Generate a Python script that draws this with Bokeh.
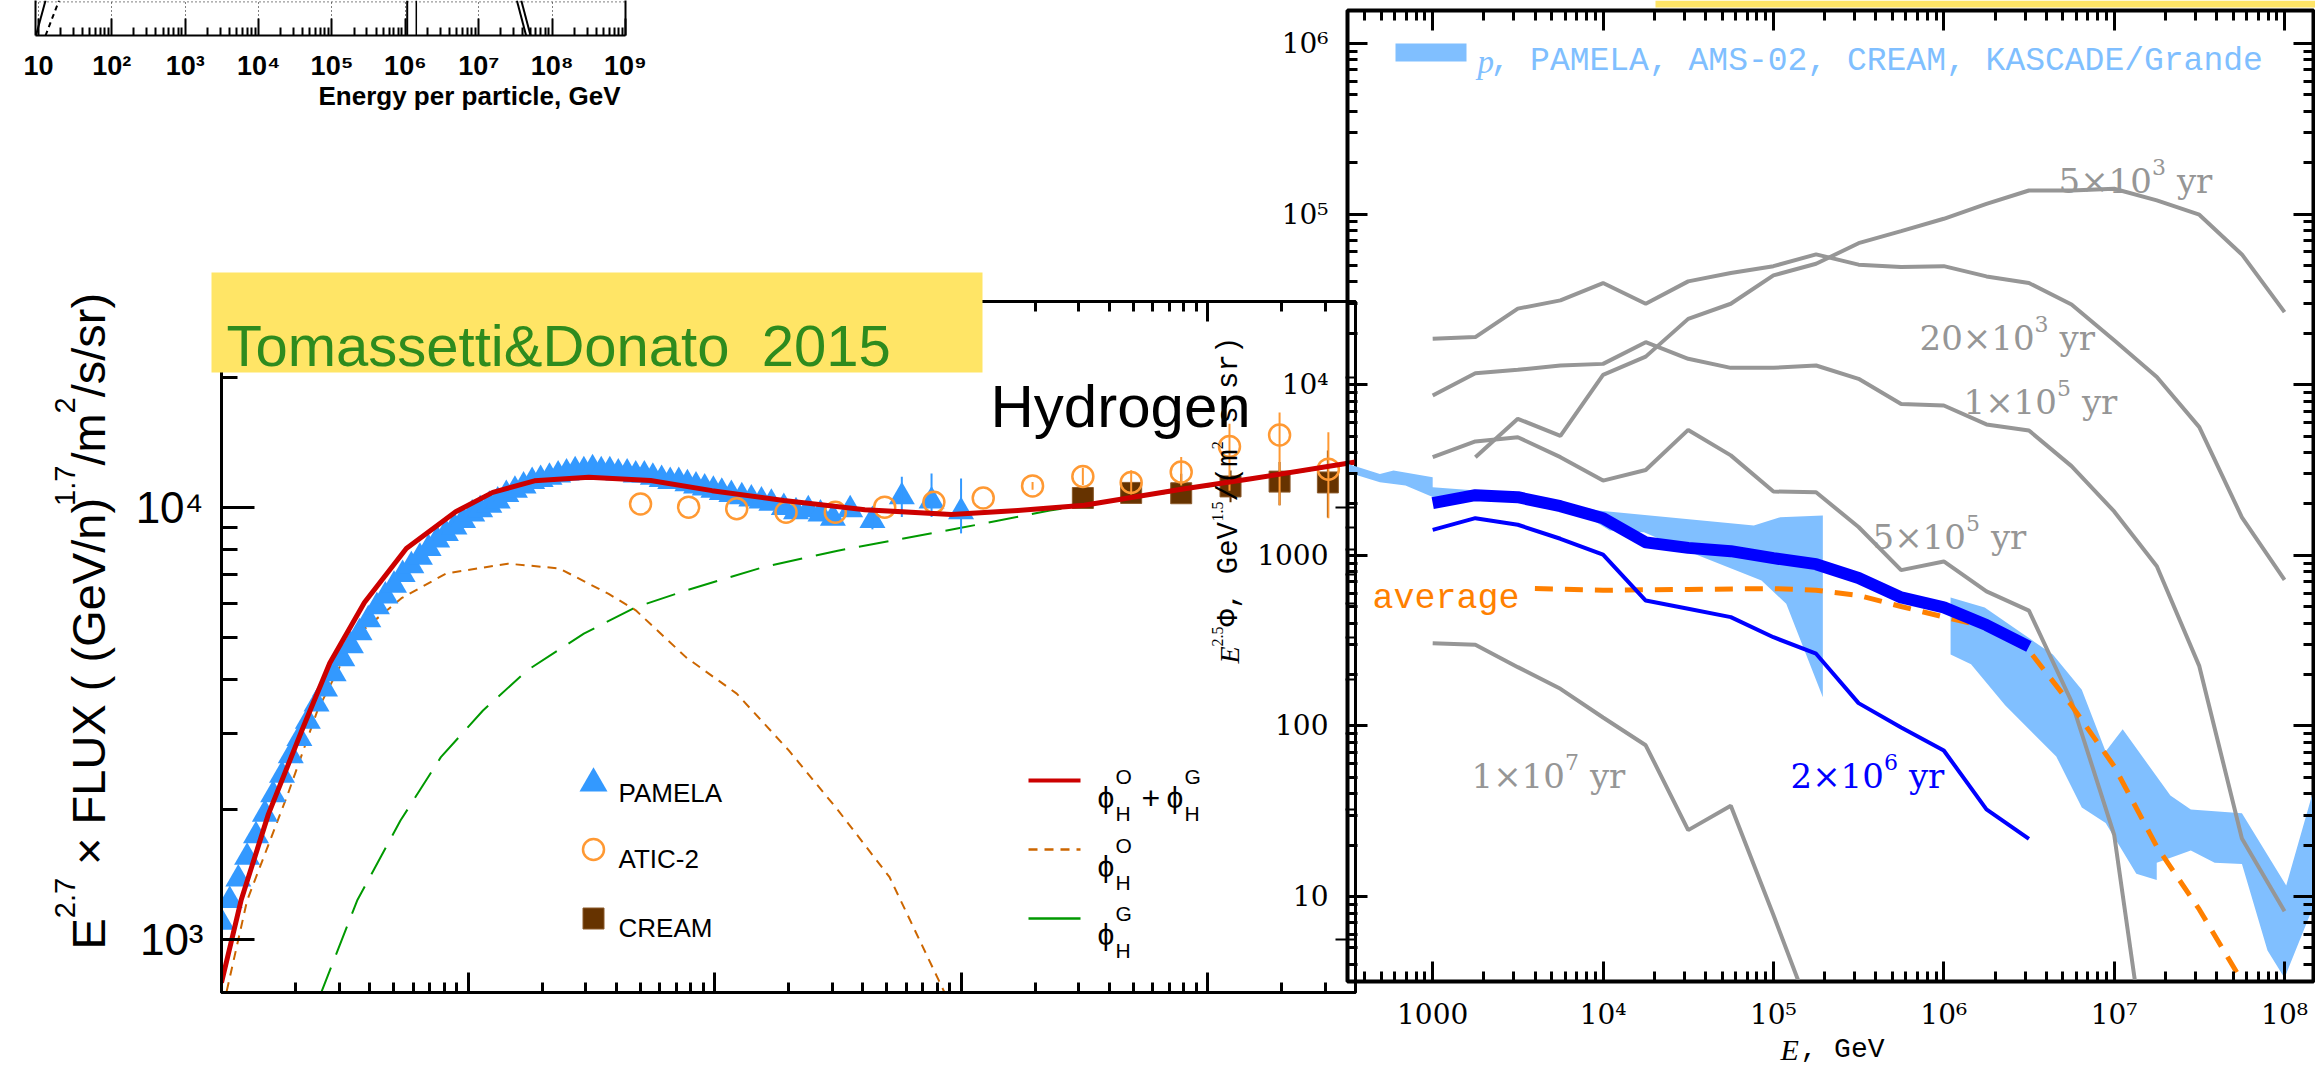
import numpy as np
from bokeh.plotting import figure
from bokeh.models import Range1d, LogAxis, LinearAxis, FixedTicker, Label, Span
from bokeh.embed import file_html
from bokeh.resources import INLINE

W, H = 2315, 1065
SANS, SERIF, MONO, DSERIF = "Liberation Sans", "Liberation Serif", "Liberation Mono", "DejaVu Serif"

# ---------------- Hydrogen spectrum: E^2.7 x flux vs kinetic energy per nucleon (GeV/n) ----------------
pamela_E = [1.00, 1.08, 1.17, 1.27, 1.38, 1.50, 1.62, 1.76, 1.91, 2.07, 2.24, 2.43, 2.63, 2.85, 3.09,
            3.35, 3.63, 3.94, 4.27, 4.62, 5.01, 5.43, 5.89, 6.38, 6.92, 7.50, 8.13, 8.81, 9.55, 10.4,
            11.2, 12.2, 13.2, 14.3, 15.5, 16.8, 18.2, 19.7, 21.4, 23.2, 25.1, 27.2, 29.5, 32.0, 34.7,
            37.6, 40.7, 44.2, 47.9, 51.9, 56.2, 61.0, 66.1, 71.6, 77.6, 84.1, 91.2, 98.9, 107, 117,
            129, 141, 155, 170, 191, 214, 240, 269, 302, 355, 437, 575, 759, 1000]
pamela_F = [1096, 1230, 1380, 1549, 1738, 1950, 2163, 2399, 2661, 2917, 3199, 3508, 3802, 4121, 4467,
            4786, 5129, 5495, 5888, 6237, 6607, 6998, 7328, 7674, 8035, 8414, 8710, 9016, 9333, 9661,
            9886, 10120, 10350, 10720, 10960, 11220, 11480, 11610, 11750, 11890, 12020, 12160, 12160,
            12300, 12160, 12160, 12020, 12020, 11890, 11890, 11750, 11610, 11480, 11480, 11350, 11220,
            11090, 10960, 10840, 10720, 10590, 10470, 10350, 10230, 10000, 9772, 9886, 9661, 9441,
            9886, 9333, 10590, 10350, 9772]
pamela_err_E = [437, 575, 759, 1000]
pamela_err_lo = [8900, 9506, 9506, 8710]
pamela_err_hi = [9800, 11780, 11990, 11670]

atic_E = [50.1, 78.5, 123, 195, 309, 490, 776, 1230, 1950, 3119, 4898, 7816, 12270, 19590, 30900]
atic_F = [10190, 10020, 9931, 9750, 9750, 10020, 10280, 10520, 11220, 11800, 11430, 12080, 13840, 14720, 12270]
atic_lo = [10190, 10020, 9931, 9750, 9750, 10020, 10280, 10520, 11000, 11270, 10720, 11250, 10940, 10120, 9441]
atic_hi = [10190, 10020, 9931, 9750, 9750, 10020, 10280, 10520, 11450, 12360, 12190, 13090, 15630, 16600, 14930]

cream_E = [3119, 4898, 7816, 12390, 19590, 30760]
cream_F = [10520, 10810, 10790, 11190, 11480, 11430]
cream_lo = [10280, 10470, 10400, 10290, 10120, 9484]
cream_hi = [10770, 11150, 11970, 12180, 12740, 13550]

# model: total (phi_O + phi_G), local source term phi_O, Galactic term phi_G
total_E = [1.0, 1.20, 1.55, 2.14, 2.75, 3.80, 5.62, 8.91, 12.6, 18.6, 30.9, 55.0, 97.7, 191, 407, 912,
           1700, 3162, 7943, 14790, 39810]
total_F = [794, 1230, 1950, 3090, 4365, 6026, 8035, 9772, 10840, 11530, 11750, 11550, 10940, 10380,
           9886, 9638, 9840, 10120, 11040, 11640, 12740]
phiO_E = [1.05, 1.27, 1.86, 2.45, 3.47, 5.37, 8.13, 14.5, 23.4, 37.2, 47.9, 76.7, 123, 200, 316, 513, 891]
phiO_F = [759, 1230, 2173, 3388, 5012, 6166, 7031, 7413, 7228, 6310, 5781, 4498, 3707, 2739, 1995, 1393, 719]
phiG_E = [2.51, 3.55, 5.32, 7.76, 11.5, 17.4, 29.5, 47.9, 76.7, 158, 316, 1000, 2291, 7943, 14790, 39810]
phiG_F = [741, 1230, 1884, 2642, 3388, 4198, 5105, 5875, 6427, 7278, 7943, 8974, 9840, 10960, 11590, 12680]

# ---------------- Proton spectrum E^2.5 Phi (GeV^1.5 / (m^2 s sr)) vs E (GeV) ----------------
E_grid = [1.0e3, 1.78e3, 3.16e3, 5.62e3, 1.0e4, 1.78e4, 3.16e4, 5.62e4, 1.0e5, 1.78e5, 3.16e5,
          5.62e5, 1.0e6, 1.78e6, 3.16e6, 5.62e6, 1.0e7, 1.78e7, 3.16e7, 5.62e7, 1.0e8]
age_5e3 = [3760, 6310, 5010, 11400, 14600, 24300, 29800, 43700, 51100, 67500, 79400, 93800,
           114800, 137400, 137400, 140600, 120200, 99100, 58000, 26600]          # from 1.78e3
age_2e4 = [18600, 19000, 27900, 31200, 39400, 29800, 40300, 45100, 49500, 58000, 50500, 48900,
           49500, 43100, 39400, 29500, 18200, 11100, 5640, 1670, 718]
age_1e5 = [8630, 11680, 12220, 12950, 13240, 17740, 14180, 12550, 12550, 12950, 10820, 7710,
           7550, 5850, 5390, 3330, 1808, 863, 224, 21.9, 8.2]
age_5e5 = [3760, 4650, 4920, 3760, 2740, 3160, 5430, 3850, 2365, 2340, 1465, 819, 920, 614, 474,
           139, 23, 0.4]
age_1e7 = [305, 299, 221, 165, 112, 77, 24.5, 34, 7.8, 1.7]
age_2e6 = [1410, 1650, 1510, 1250, 1010, 543, 486, 434, 331, 265, 136, 98, 71.8, 32.4, 21.8]
total_2e6 = [2020, 2250, 2190, 1940, 1650, 1190, 1105, 1057, 962, 887, 736, 566, 495, 390, 292]

avg_E = [3981, 1.0e4, 3.16e4, 1.0e5, 1.78e5, 3.16e5, 5.62e5, 1.0e6, 1.78e6, 3.16e6, 5.62e6,
         1.0e7, 1.78e7, 3.16e7, 5.62e7]
avg_F = [638, 624, 631, 638, 624, 582, 501, 435, 380, 277, 132, 58, 19.6, 8.4, 3.2]

# measured proton band (PAMELA, AMS-02, CREAM, KASCADE/Grande): upper and lower edges
band1_up_E = [316, 490, 589, 1000, 1000, 3236, 9333, 76740, 109600, 195000]
band1_up_F = [3436, 2999, 3141, 2871, 2506, 2291, 1832, 1496, 1671, 1710]
band1_lo_E = [316, 490, 692, 1000, 3162, 5623, 8913, 10960, 17380, 36310, 85110, 118900, 195000]
band1_lo_F = [3069, 2679, 2564, 2193, 2089, 1862, 1585, 1396, 1365, 998, 711, 520, 147]
band2_up_E = [1.096e6, 1.738e6, 4.365e6, 6.457e6, 8.913e6, 1.122e7, 2.138e7, 2.818e7, 5.623e7, 1.023e8, 1.514e8]
band2_up_F = [566, 495, 262, 163, 70.8, 95.5, 39.1, 32.4, 30.8, 11.6, 45.7]
band2_lo_E = [1.096e6, 1.445e6, 2.291e6, 4.571e6, 6.457e6, 8.913e6, 1.349e7, 1.778e7, 1.778e7,
              2.818e7, 3.89e7, 5.623e7, 7.943e7, 1.0e8, 1.514e8]
band2_lo_F = [262, 230, 132, 66.2, 33.3, 27.0, 13.6, 12.5, 15.8, 18.6, 15.8, 15.5, 4.82, 3.33, 9.33]

# ---------------- partial spectrum panel (energy per particle) ----------------
frag_solid_E, frag_solid_y = [9.25, 12.5], [0.0, 1.0]
frag_dash_E, frag_dash_y = [12.5, 19.1], [0.0, 1.0]
frag_knee1_E, frag_knee2_E, frag_knee_y = [1.06e6, 1.06e6], [1.41e6, 1.41e6], [0.0, 1.0]
frag_cut1_E, frag_cut2_E, frag_cut_y = [4.42e7, 3.31e7], [5.08e7, 3.80e7], [0.0, 1.0]

YELLOW, GREEN_TXT = "#FFE566", "#2E8B1E"
C_PAM, C_ATIC, C_CREAM = "#3399FF", "#FF9933", "#663300"
C_TOT, C_O, C_G = "#CC0000", "#CC6600", "#009900"
C_BAND, C_GRAY, C_BLUE, C_AVG = "#80BFFF", "#969696", "#0000FF", "#FF8000"


def panel(xr, yr, frame, y_type="log"):
    left, top, right, bottom = frame
    p = figure(width=W, height=H, x_range=xr, y_range=yr, x_axis_type="log", y_axis_type=y_type,
               min_border_left=left, min_border_top=top, min_border_right=W - right,
               min_border_bottom=H - bottom, output_backend="svg", toolbar_location=None)
    p.background_fill_color = None
    p.border_fill_color = None
    p.outline_line_color = None
    p.grid.visible = False
    p.styles = {"position": "absolute", "left": "0px", "top": "0px"}
    return p


def minor_list(k0, k1, lo, hi):
    return [m * 10 ** k for k in range(k0, k1 + 1) for m in range(2, 10) if lo <= m * 10 ** k <= hi]


def dress(ax, ticks, minor, major_in, minor_in, lw, labels=None, font=SANS, size="40px",
          standoff=18, style="normal"):
    ax.ticker = FixedTicker(ticks=ticks, minor_ticks=minor)
    ax.major_tick_in = major_in
    ax.major_tick_out = 0
    ax.minor_tick_in = minor_in
    ax.minor_tick_out = 0
    ax.axis_line_width = lw
    ax.major_tick_line_width = lw
    ax.minor_tick_line_width = lw
    ax.axis_line_color = "black"
    ax.major_tick_line_color = "black"
    ax.minor_tick_line_color = "black"
    if labels:
        ax.major_label_overrides = labels
        ax.major_label_text_font = font
        ax.major_label_text_font_size = size
        ax.major_label_standoff = standoff
        ax.major_label_text_font_style = style
        ax.major_label_text_color = "black"
    else:
        # tick marks only: blank labels
        ax.major_label_overrides = {t: "" for t in ticks}
        ax.major_label_text_font_size = "6px"
        ax.major_label_standoff = 0


# ---- partial spectrum panel ----
pf = panel(Range1d(10 ** 0.96, 10 ** 9.0), Range1d(0, 1), (35, 0, 625, 35), y_type="linear")
dec9 = [10 ** k for k in range(1, 10)]
sup = {2: "²", 3: "³", 4: "⁴", 5: "⁵", 6: "⁶", 7: "⁷", 8: "⁸", 9: "⁹"}
dress(pf.xaxis[0], dec9, minor_list(1, 8, 10, 1e9), 17, 8, 2,
      labels={10 ** k: ("10" if k == 1 else "10" + sup[k]) for k in range(1, 10)},
      font=SANS, size="27px", standoff=15, style="bold")
dress(pf.yaxis[0], [0.5], [], 0, 0, 2)
pf_r = LinearAxis()
dress(pf_r, [0.5], [], 0, 0, 2)
pf.add_layout(pf_r, "right")
pf.xgrid.visible = True
pf.xgrid.ticker = FixedTicker(ticks=dec9)
pf.xgrid.grid_line_color = "black"
pf.xgrid.grid_line_dash = "1 3"
pf.xgrid.grid_line_width = 1
pf.add_layout(Span(location=0.96, dimension="width", line_color="black", line_dash="1 3", line_width=1))
pf.line(frag_solid_E, frag_solid_y, color="black", line_width=2)
pf.line(frag_dash_E, frag_dash_y, color="black", line_width=2, line_dash="5 4")
pf.line(frag_knee1_E, frag_knee_y, color="black", line_width=2)
pf.line(frag_knee2_E, frag_knee_y, color="black", line_width=1.5)
pf.line(frag_cut1_E, frag_cut_y, color="black", line_width=2)
pf.line(frag_cut2_E, frag_cut_y, color="black", line_width=2)

# ---- Hydrogen panel ----
pl = panel(Range1d(1, 10 ** 4.6), Range1d(10 ** 2.877, 10 ** 4.477), (221, 301, 1355, 992))
pl.outline_line_color = "black"
pl.outline_line_width = 3
decL = [1, 10, 100, 1000, 10000]
dress(pl.xaxis[0], decL, minor_list(0, 4, 1, 10 ** 4.6), 20, 10, 3)
yminL = minor_list(3, 4, 10 ** 2.877, 10 ** 4.477)
dress(pl.yaxis[0], [1000, 10000], yminL, 33, 16, 3, labels={1000: "10³", 10000: "10⁴"},
      font=SANS, size="44px", standoff=18)
ax = LogAxis()
dress(ax, decL, minor_list(0, 4, 1, 10 ** 4.6), 20, 10, 3)
pl.add_layout(ax, "above")
ax = LogAxis()
dress(ax, [1000, 10000], yminL, 20, 10, 2)
pl.add_layout(ax, "right")

pl.line(phiG_E, phiG_F, color=C_G, line_width=2, line_dash="30 14")
pl.line(phiO_E, phiO_F, color=C_O, line_width=2, line_dash="9 7")
pl.scatter(pamela_E, pamela_F, marker="triangle", size=26, fill_color=C_PAM, line_color=None)
pl.segment(pamela_err_E, pamela_err_lo, pamela_err_E, pamela_err_hi, color=C_PAM, line_width=2)
pl.segment(cream_E, cream_lo, cream_E, cream_hi, color=C_CREAM, line_width=2)
pl.scatter(cream_E, cream_F, marker="square", size=21, fill_color=C_CREAM, line_color="#8B5A2B", line_width=1)
pl.segment(atic_E, atic_lo, atic_E, atic_hi, color=C_ATIC, line_width=2)
pl.scatter(atic_E, atic_F, marker="circle", size=21, fill_color=None, line_color=C_ATIC, line_width=2.5)
pl.line(total_E, total_F, color=C_TOT, line_width=5, line_join="round")

# ---- proton panel ----
pr = panel(Range1d(10 ** 2.5, 10 ** 8.17), Range1d(10 ** 0.502, 10 ** 6.193), (1347, 10, 2313, 981))
pr.outline_line_color = "black"
pr.outline_line_width = 4
decX = [10 ** k for k in range(3, 9)]
decY = [10 ** k for k in range(1, 7)]
xminR = minor_list(2, 8, 10 ** 2.5, 10 ** 8.17)
yminR = minor_list(0, 6, 10 ** 0.502, 10 ** 6.193)
xlab = {1000: "1000"}
xlab.update({10 ** k: "10" + sup[k] for k in range(4, 9)})
ylab = {10: "10", 100: "100", 1000: "1000"}
ylab.update({10 ** k: "10" + sup[k] for k in range(4, 7)})
dress(pr.xaxis[0], decX, xminR, 20, 10, 3, labels=xlab, font=DSERIF, size="28px", standoff=16)
dress(pr.yaxis[0], decY, yminR, 20, 10, 3, labels=ylab, font=DSERIF, size="28px", standoff=19)
ax = LogAxis()
dress(ax, decX, xminR, 20, 10, 3)
pr.add_layout(ax, "above")
ax = LogAxis()
dress(ax, decY, yminR, 20, 10, 3)
pr.add_layout(ax, "right")

pr.patch(band1_up_E + band1_lo_E[::-1], band1_up_F + band1_lo_F[::-1], color=C_BAND, line_color=None)
pr.patch(band2_up_E + band2_lo_E[::-1], band2_up_F + band2_lo_F[::-1], color=C_BAND, line_color=None)
pr.line(E_grid[1:], age_5e3, color=C_GRAY, line_width=4)
pr.line(E_grid, age_2e4, color=C_GRAY, line_width=4)
pr.line(E_grid, age_1e5, color=C_GRAY, line_width=4)
pr.line(E_grid[:len(age_5e5)], age_5e5, color=C_GRAY, line_width=4)
pr.line(E_grid[:len(age_1e7)], age_1e7, color=C_GRAY, line_width=4)
pr.line(avg_E, avg_F, color=C_AVG, line_width=5, line_dash="18 12")
pr.line(E_grid[:len(age_2e6)], age_2e6, color=C_BLUE, line_width=4)
pr.line(E_grid[:len(total_2e6)], total_2e6, color=C_BLUE, line_width=12, line_join="round")

# ---- annotation layer in page pixels ----
ov = figure(width=W, height=H, x_range=Range1d(0, W), y_range=Range1d(H, 0), min_border=0,
            x_axis_location=None, y_axis_location=None, output_backend="svg", toolbar_location=None)
ov.background_fill_color = None
ov.border_fill_color = None
ov.outline_line_color = None
ov.grid.visible = False
ov.styles = {"position": "absolute", "left": "0px", "top": "0px"}


def txt(x, y, s, font=SANS, size=30, color="black", style="normal", align="left",
        baseline="alphabetic", angle=0.0):
    ov.add_layout(Label(x=x, y=y, text=s, text_font=font, text_font_size=f"{size}px",
                        text_color=color, text_font_style=style, text_align=align,
                        text_baseline=baseline, angle=angle))


def vertical_runs(x_base, y_start, runs, color="black"):
    """Bottom-to-top title made of (text, font, size, style, x_shift, gap_before, advance) runs."""
    y = y_start
    for s, font, size, style, dx, gap, adv in runs:
        y -= gap
        txt(x_base + dx, y, s, font, size, color, style=style, angle=np.pi / 2)
        y -= adv


def age_label(x, y, lead, power, color=C_GRAY):
    lead_w = {"5×10": 93.4, "20×10": 115.0, "1×10": 93.4, "2×10": 93.4}[lead]
    txt(x, y, lead, DSERIF, 34, color)
    txt(x + lead_w, y - 14, power, DSERIF, 22, color)
    txt(x + lead_w + 25, y, "yr", DSERIF, 34, color)


# title boxes
ov.quad(left=[211, 1655], right=[982, 2315], top=[272, 0], bottom=[372, 7], color=YELLOW, line_color=None)
txt(226, 345, "Tomassetti&Donato\u00a0 2015", SANS, 58, GREEN_TXT)
txt(990, 406, "Hydrogen", SANS, 60)
vertical_runs(88, 949, [
    ("E", SANS, 47, "normal", 0, 0, 31.3),
    ("2.7", SANS, 29, "normal", -24, 0, 40.3),
    ("× FLUX ( (GeV/n)", SANS, 47, "normal", 0, 13.0, 367.0),
    ("1.7", SANS, 29, "normal", -24, -8.0, 40.3),
    ("/m", SANS, 47, "normal", 0, 0, 52.2),
    ("2", SANS, 29, "normal", -24, 0, 16.1),
    ("/s/sr)", SANS, 47, "normal", 0, 0, 104.4),
])
txt(620, 95, "Energy per particle, GeV", SANS, 26, style="bold", align="right")

# Hydrogen legend
ov.scatter([593], [783], marker="triangle", size=28, fill_color=C_PAM, line_color=None)
ov.scatter([593], [849], marker="circle", size=21, fill_color=None, line_color=C_ATIC, line_width=2.5)
ov.scatter([593], [918], marker="square", size=21, fill_color=C_CREAM, line_color="#8B5A2B")
txt(618, 792, "PAMELA", SANS, 26)
txt(618, 858, "ATIC-2", SANS, 26)
txt(618, 927, "CREAM", SANS, 26)
ov.line([1028, 1080], [780, 780], color=C_TOT, line_width=4)
ov.line([1028, 1080], [849, 849], color=C_O, line_width=2.5, line_dash="9 7")
ov.line([1028, 1080], [918, 918], color=C_G, line_width=2.5)
for x0, y0, s in [(1097, 797, "O"), (1097, 866, "O"), (1097, 934, "G")]:
    txt(x0, y0, "ϕ", SANS, 30)
    txt(x0 + 18, y0 - 21, s, SANS, 21)
    txt(x0 + 18, y0 + 16, "H", SANS, 21)
txt(1141, 797, "+", SANS, 32)
txt(1166, 797, "ϕ", SANS, 30)
txt(1184, 776, "G", SANS, 21)
txt(1184, 813, "H", SANS, 21)

# proton panel texts
ov.quad(left=[1395], right=[1466], top=[43], bottom=[61], color=C_BAND, line_color=None)
txt(1477, 61, "p", SERIF, 33, C_BAND, style="italic")
txt(1490, 61, ", PAMELA, AMS-02, CREAM, KASCADE/Grande", MONO, 33, C_BAND)
age_label(2058, 180, "5×10", "3")
age_label(1919, 337, "20×10", "3")
age_label(1963, 401, "1×10", "5")
age_label(1872, 536, "5×10", "5")
age_label(1471, 775, "1×10", "7")
age_label(1790, 775, "2×10", "6", C_BLUE)
txt(1372, 598, "average", MONO, 35, C_AVG)
vertical_runs(1229, 663, [
    ("E", SERIF, 28, "italic", 0, 0, 17.1),
    ("2.5", SERIF, 16, "normal", -12, 0, 20.0),
    ("Φ, GeV", MONO, 29, "normal", 0, 0, 104.8),
    ("1.5", SERIF, 16, "normal", -12, 0, 20.0),
    ("/(m", MONO, 29, "normal", 0, 0, 52.4),
    ("2", SERIF, 16, "normal", -12, 0, 8.0),
    ("s sr)", MONO, 29, "normal", 0, 17.5, 87.3),
])
txt(1780, 1049, "E", SERIF, 30, style="italic")
txt(1800, 1049, ", GeV", MONO, 28)

# every panel is pinned to the page origin and layered in this order
p = [pf, pl, pr, ov]
open("out.html", "w").write(file_html(p, INLINE))
